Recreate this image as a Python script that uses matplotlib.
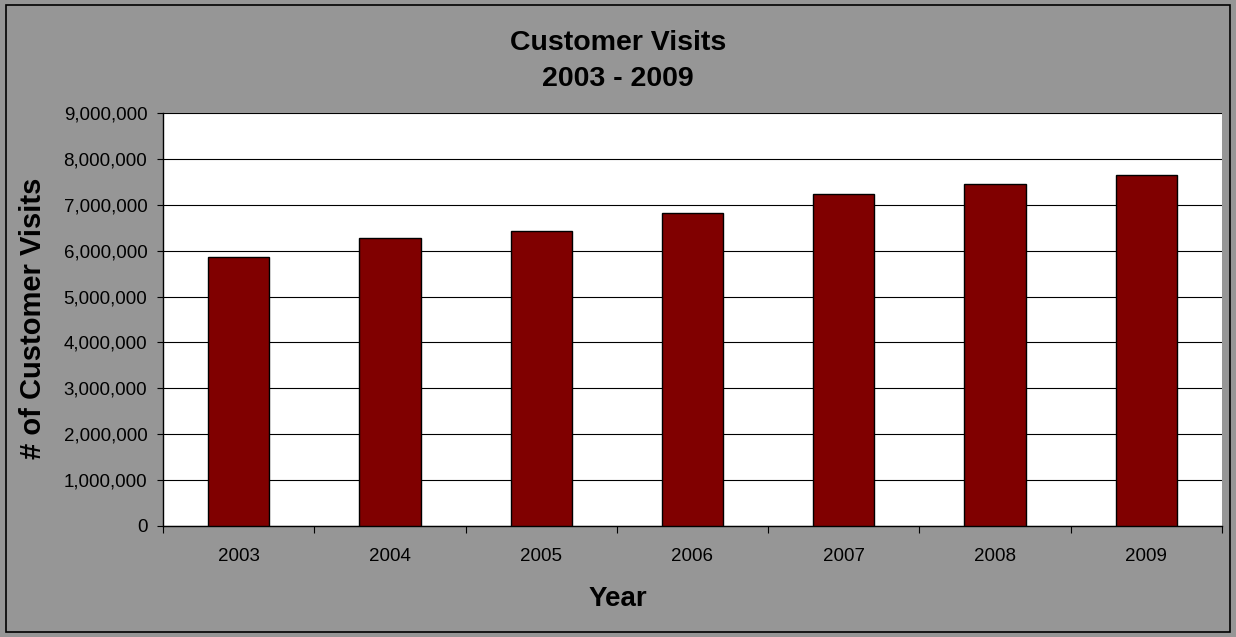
import matplotlib
matplotlib.use("Agg")
import matplotlib.pyplot as plt
from matplotlib.patches import Rectangle
from matplotlib.ticker import FuncFormatter, MultipleLocator
import numpy as np

# chart data
years = ["2003", "2004", "2005", "2006", "2007", "2008", "2009"]
visits = [5865000, 6270000, 6430000, 6830000, 7225000, 7455000, 7655000]
y_ticks = [0, 1000000, 2000000, 3000000, 4000000, 5000000, 6000000, 7000000, 8000000, 9000000]

plt.rcParams['font.family'] = ['Liberation Sans', 'DejaVu Sans']

BG = '#969696'
BAR = '#800000'

fig = plt.figure(figsize=(12.36, 6.37), dpi=100, facecolor=BG)
# outer frame of the chart
fig.patches.append(Rectangle((6 / 1236, 5 / 637), 1224 / 1236, 627 / 637,
                             transform=fig.transFigure, fill=False,
                             edgecolor='black', linewidth=1.2))

ax = fig.add_axes([163 / 1236, 1 - 526 / 637, (1222 - 163) / 1236, (526 - 113) / 637])
ax.set_facecolor('white')

x = np.arange(len(years))
ax.bar(x, visits, width=0.405, color=BAR, edgecolor='black', linewidth=1.0, zorder=3)

ax.set_xlim(-0.5, len(years) - 0.5)
ax.set_ylim(0, 9000000)
ax.set_yticks(y_ticks)
ax.yaxis.set_major_formatter(FuncFormatter(lambda v, p: f"{int(v):,}"))
ax.grid(axis='y', color='black', linewidth=0.8, zorder=1)

# category labels centered, tick marks between categories
ax.set_xticks(x)
ax.set_xticklabels(years, fontsize=13.5)
ax.tick_params(axis='x', length=0, pad=16)
ax.xaxis.set_minor_locator(MultipleLocator(1, offset=0.5))
ax.tick_params(axis='x', which='minor', length=5, width=0.8, direction='out')
ax.tick_params(axis='y', length=4.3, width=0.8, direction='out', labelsize=13.5, pad=7)

for s in ['top', 'right']:
    ax.spines[s].set_visible(False)
ax.spines['left'].set_linewidth(1.0)
ax.spines['bottom'].set_linewidth(1.0)

ax.set_ylabel('# of Customer Visits', fontsize=21, fontweight='bold')
ax.yaxis.set_label_coords(33 / 1236, 0.5, transform=fig.transFigure)
ax.set_xlabel('Year', fontsize=20, fontweight='bold')
ax.xaxis.set_label_coords(0.5, 1 - 599 / 637, transform=fig.transFigure)
ax.xaxis.label.set_va('center')
ax.yaxis.label.set_va('center')

fig.text(0.5, 1 - 43 / 637, 'Customer Visits', ha='center', va='center',
         fontsize=20.5, fontweight='bold')
fig.text(0.5, 1 - 79 / 637, '2003 - 2009', ha='center', va='center',
         fontsize=20.5, fontweight='bold')

fig.savefig('out.png', dpi=100, facecolor=BG)
